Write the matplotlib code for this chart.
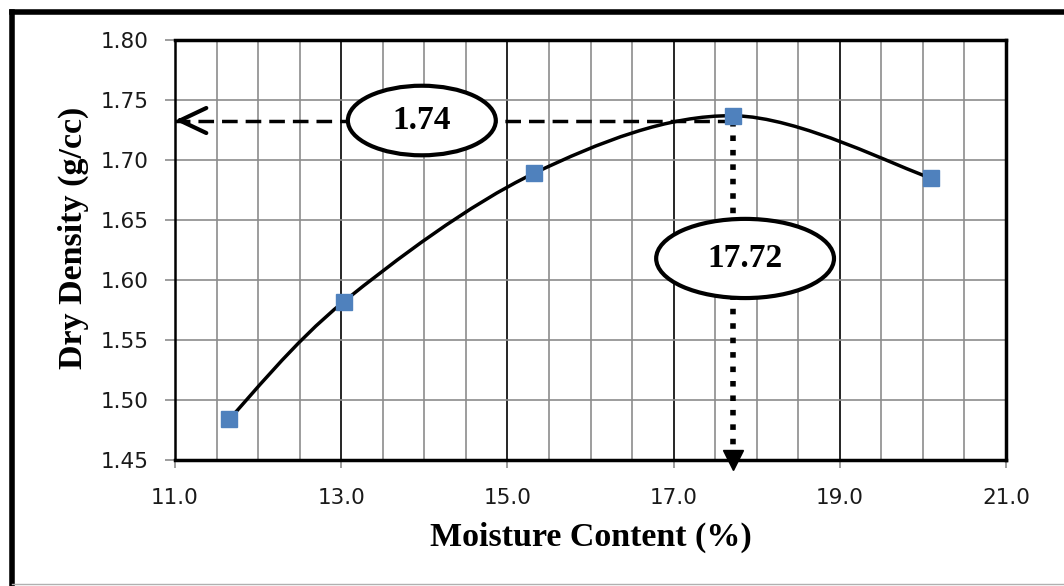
import numpy as np
import matplotlib.pyplot as plt
from matplotlib.path import Path
from matplotlib.patches import PathPatch, Ellipse
from matplotlib.lines import Line2D

# Compaction test data
moisture = [11.65, 13.03, 15.32, 17.72, 20.10]
dry_density = [1.484, 1.582, 1.689, 1.737, 1.685]

omc = 17.72          # optimum moisture content
mdd_label = "1.74"   # max dry density label
guide_level = 1.733  # height of the horizontal guide arrow

x_ticks = [11.0, 13.0, 15.0, 17.0, 19.0, 21.0]
y_ticks = [1.45, 1.50, 1.55, 1.60, 1.65, 1.70, 1.75, 1.80]

serif = "Liberation Serif"
grid_grey = "#8c8c8c"


def smooth_path(xs, ys):
    # Excel-like smoothed line: cubic bezier through the points
    pts = np.column_stack([xs, ys])
    n = len(pts)
    verts = [pts[0]]
    codes = [Path.MOVETO]
    for i in range(n - 1):
        p0 = pts[i - 1] if i > 0 else pts[i]
        p1, p2 = pts[i], pts[i + 1]
        p3 = pts[i + 2] if i + 2 < n else pts[i + 1]
        c1 = p1 + (p2 - p0) / 6
        c2 = p2 - (p3 - p1) / 6
        verts += [c1, c2, p2]
        codes += [Path.CURVE4] * 3
    return Path(verts, codes)


fig = plt.figure(figsize=(10.64, 5.86), dpi=100)
ax = fig.add_axes([0.1645, 0.215, 0.781, 0.7165])

ax.set_xlim(x_ticks[0], x_ticks[-1])
ax.set_ylim(y_ticks[0], y_ticks[-1])

# grid: grey minor every 0.5 %, black major at the labelled ticks
ax.set_xticks(x_ticks)
ax.set_xticks(np.arange(x_ticks[0], x_ticks[-1] + 0.01, 0.5), minor=True)
ax.set_yticks(y_ticks)
ax.grid(which="minor", axis="x", color=grid_grey, linewidth=1.2, zorder=0)
ax.grid(which="major", axis="x", color="black", linewidth=1.2, zorder=0)
ax.grid(which="major", axis="y", color=grid_grey, linewidth=1.2, zorder=0)
ax.tick_params(axis="x", which="minor", length=0)
ax.tick_params(axis="both", which="major", color=grid_grey, width=1.2,
               labelsize=15.5, labelcolor="#1a1a1a")
ax.tick_params(axis="y", length=7, pad=12)
ax.tick_params(axis="x", length=6, pad=14)
ax.set_xticklabels([f"{v:.1f}" for v in x_ticks])
ax.set_yticklabels([f"{v:.2f}" for v in y_ticks])

for side in ["top", "right", "bottom"]:
    ax.spines[side].set_linewidth(2.5)
ax.spines["left"].set_linewidth(1.8)

# guide lines: dashed to the y axis, dotted down to the x axis
ax.plot([omc, x_ticks[0]], [guide_level, guide_level], color="black",
        linewidth=2.5, linestyle=(0, (4.5, 2.3)), zorder=3)
ax.annotate("", xy=(x_ticks[0], guide_level),
            xytext=(x_ticks[0] + 0.1, guide_level),
            arrowprops=dict(arrowstyle="->,head_length=1.9,head_width=0.9",
                            linewidth=3, color="black",
                            shrinkA=0, shrinkB=0),
            zorder=3)
ax.plot([omc, omc], [guide_level, y_ticks[0]], color="black", linewidth=4,
        linestyle=(0, (1, 1.6)), zorder=3)
ax.plot([omc], [y_ticks[0]], marker="v", markersize=15, color="black",
        clip_on=False, zorder=5)

# smoothed curve and points
ax.add_patch(PathPatch(smooth_path(moisture, dry_density), facecolor="none",
                       edgecolor="black", linewidth=2.5, zorder=4))
ax.plot(moisture, dry_density, linestyle="none", marker="s", markersize=11,
        color="#4F81BD", zorder=6)

# callout ellipses
ax.add_patch(Ellipse((13.97, guide_level), 1.78, 0.058, facecolor="white",
                     edgecolor="black", linewidth=3, zorder=7))
ax.text(13.97, guide_level, mdd_label, ha="center", va="center",
        fontsize=24, fontweight="bold", family=serif, zorder=8)
ax.add_patch(Ellipse((omc + 0.14, 1.618), 2.14, 0.066, facecolor="white",
                     edgecolor="black", linewidth=3, zorder=7))
ax.text(omc + 0.14, 1.618, f"{omc:.2f}", ha="center", va="center",
        fontsize=24, fontweight="bold", family=serif, zorder=8)

ax.set_xlabel("Moisture Content (%)", fontsize=24.5, fontweight="bold",
              family=serif, labelpad=10)
ax.set_ylabel("Dry Density (g/cc)", fontsize=24.5, fontweight="bold",
              family=serif)
ax.yaxis.set_label_coords(-0.103, 0.53)

# outer frame of the screenshot
fig.add_artist(Line2D([0.0117, 0.0117], [0.0, 0.98], color="black",
                      linewidth=4, transform=fig.transFigure))
fig.add_artist(Line2D([0.0117, 1.0], [0.98, 0.98], color="black",
                      linewidth=4, transform=fig.transFigure))
fig.add_artist(Line2D([0.0117, 1.0], [0.003, 0.003], color="#b0b0b0",
                      linewidth=1, transform=fig.transFigure))

fig.savefig("out.png", dpi=100)
